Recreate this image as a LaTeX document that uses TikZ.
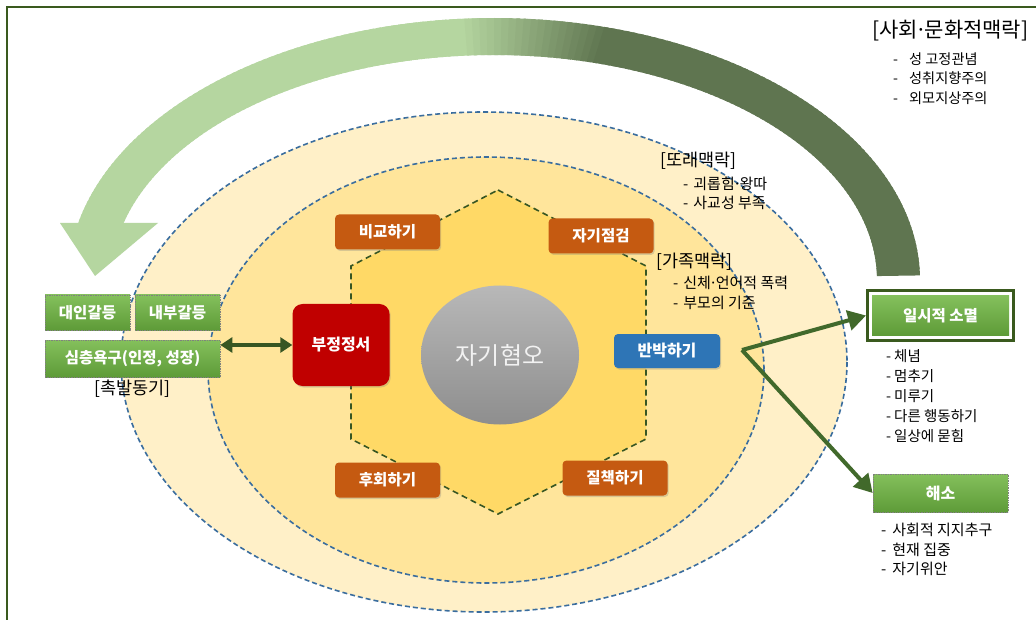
\documentclass[tikz,border=0pt]{standalone}
\usepackage{fontspec}
\setmainfont{Noto Sans CJK KR}
\usetikzlibrary{arrows.meta,shapes.geometric,shadows}
\newcommand{\mdt}{\kern-0.12em·\kern-0.12em}
\definecolor{frameG}{HTML}{3A5A1E}
\definecolor{outerY}{HTML}{FFF0C8}
\definecolor{innerY}{HTML}{FFE59B}
\definecolor{hexY}{HTML}{FFD966}
\definecolor{dashB}{HTML}{3A6D9E}
\definecolor{hexG}{HTML}{375623}
\definecolor{orangeB}{HTML}{C55A11}
\definecolor{redB}{HTML}{C00000}
\definecolor{blueB}{HTML}{2E75B6}
\definecolor{grnTop}{HTML}{84C05C}
\definecolor{grnBot}{HTML}{5E9B38}
\definecolor{arrG}{HTML}{41692B}
\definecolor{arcDark}{HTML}{5F7550}
\definecolor{arcLight}{HTML}{B5D6A0}
\definecolor{coreTop}{HTML}{B8B8B8}
\definecolor{coreBot}{HTML}{8E8E8E}
\begin{document}
\begin{tikzpicture}[x=1pt,y=-1pt,
  lbl/.style={font=\fontsize{15.5}{18}\selectfont\bfseries, text=white, inner sep=0pt},
  orangebox/.style={lbl, fill=orangeB, rounded corners=4pt, minimum width=105pt, minimum height=35pt,
    drop shadow={shadow xshift=1.2pt,shadow yshift=-1.5pt,opacity=0.3}},
  greenbox/.style={lbl, top color=grnTop, bottom color=grnBot, draw=black!50, densely dotted,
    line width=0.7pt, minimum height=35pt},
  note/.style={font=\fontsize{15}{17}\selectfont, anchor=west, inner sep=0pt, text=black},
  headnote/.style={font=\fontsize{17.5}{20}\selectfont, anchor=west, inner sep=0pt, text=black},
  ellborder/.style={draw=dashB, line width=1.6pt, dash pattern=on 5pt off 3pt},
  linkarrow/.style={draw=arrG, fill=arrG, line width=4pt, -{Triangle[length=18pt,width=20pt]}},
  botharrow/.style={draw=hexG, fill=hexG, line width=4pt,
    {Triangle[length=12pt,width=15pt]}-{Triangle[length=12pt,width=15pt]}},
]
\useasboundingbox (0,0) rectangle (1036,620);
\fill[white] (0,0) rectangle (1036,620);

% frame (top and left sides visible)
\draw[frameG, line width=2.5pt] (7,620) -- (7,7) -- (1036,7);

% big circular arrow (gradient band)
\foreach \ang in {192,193,...,358}{
  \pgfmathsetmacro{\angb}{min(\ang+1.6,359)}
  \pgfmathsetmacro{\mix}{min(100,max(0,(\ang-265)*100/20))}
  \fill[arcDark!\mix!arcLight]
    ({494+426*cos(\ang)},{280+262*sin(\ang)}) -- ({494+426*cos(\angb)},{280+262*sin(\angb)})
    -- ({494+383*cos(\angb)},{280+225*sin(\angb)}) -- ({494+383*cos(\ang)},{280+225*sin(\ang)}) -- cycle;
}
\fill[arcLight] (60,223) -- (158,223) -- (95,276) -- cycle;

% context ellipses
\fill[outerY] (484,362) ellipse [x radius=363, y radius=250];
\draw[ellborder] (484,362) ellipse [x radius=363, y radius=250];
\fill[innerY] (486,370) ellipse [x radius=278, y radius=213];
\draw[ellborder] (486,370) ellipse [x radius=278, y radius=213];

% hexagon
\draw[hexG, line width=1.6pt, dash pattern=on 6pt off 4pt, fill=hexY]
  (498,190) -- (646,266) -- (646,439) -- (498,514) -- (351,439) -- (351,266) -- cycle;

% core
\node[ellipse, minimum width=158pt, minimum height=139pt, inner sep=0pt,
  top color=coreTop, bottom color=coreBot, text=white!95!black,
  font=\fontsize{24}{27}\selectfont] (core) at (500,355) {자기혐오};

% orange boxes
\node[orangebox] (cmp) at (387.5,232) {비교하기};
\node[orangebox] (chk) at (601,236) {자기점검};
\node[orangebox] (reg) at (387.5,480) {후회하기};
\node[orangebox] (blm) at (615,478) {질책하기};

% negative emotion
\node[lbl, fill=redB, rounded corners=10pt, minimum width=97pt, minimum height=82pt,
  font=\fontsize{16}{18}\selectfont\bfseries,
  drop shadow={shadow xshift=1.2pt,shadow yshift=-1.5pt,opacity=0.3}] (neg) at (341,345) {부정정서};

% rebuttal
\node[lbl, fill=blueB, rounded corners=4pt, minimum width=106pt, minimum height=34pt,
  font=\fontsize{16}{18}\selectfont\bfseries,
  drop shadow={shadow xshift=1.2pt,shadow yshift=-1.5pt,opacity=0.3}] (reb) at (667,351) {반박하기};

% green boxes (left)
\node[greenbox, minimum width=85pt] (ipc) at (87.5,312.5) {대인갈등};
\node[greenbox, minimum width=85pt] (inc) at (177.5,312.5) {내부갈등};
\node[greenbox, minimum width=175pt, minimum height=37pt] (deep) at (132.5,358.5) {심층욕구(인정, 성장)};
\node[headnote] (trig) at (94,389) {[촉발동기]};

% green boxes (right)
\node[draw=frameG, line width=3pt, fill=white, minimum width=146pt, minimum height=50pt] (tmpf) at (940.5,315.5) {};
\node[greenbox, draw=none, minimum width=137pt, minimum height=39pt] (tmp) at (940.5,315.5) {일시적 소멸};
\node[greenbox, minimum width=135pt, minimum height=38pt, font=\fontsize{16}{18}\selectfont\bfseries] (res) at (940.5,493) {해소};

% annotations: socio-cultural
\node[note, font=\fontsize{21}{24}\selectfont] (sct) at (872,31) {[사회\mdt 문화적맥락]};
\node[note, font=\fontsize{14.2}{16}\selectfont] (sc1) at (893,59) {-\hspace{11pt}성 고정관념};
\node[note, font=\fontsize{14.2}{16}\selectfont] (sc2) at (893,78.5) {-\hspace{11pt}성취지향주의};
\node[note, font=\fontsize{14.2}{16}\selectfont] (sc3) at (893,98) {-\hspace{11pt}외모지상주의};

% peer context
\node[headnote] (peert) at (660,161) {[또래맥락]};
\node[note] (peer1) at (683,183.5) {-\hspace{5pt}괴롭힘\mdt 왕따};
\node[note] (peer2) at (683,202.5) {-\hspace{5pt}사교성 부족};

% family context
\node[headnote] (famt) at (656,262) {[가족맥락]};
\node[note] (fam1) at (673,283) {-\hspace{5pt}신체\mdt 언어적 폭력};
\node[note] (fam2) at (673,303) {-\hspace{5pt}부모의 기준};

% temporary list
\node[note, font=\fontsize{14.5}{16}\selectfont] (t1) at (886,356) {-\hspace{3pt}체념};
\node[note, font=\fontsize{14.5}{16}\selectfont] (t2) at (886,376) {-\hspace{3pt}멈추기};
\node[note, font=\fontsize{14.5}{16}\selectfont] (t3) at (886,396) {-\hspace{3pt}미루기};
\node[note, font=\fontsize{14.5}{16}\selectfont] (t4) at (886,416) {-\hspace{3pt}다른 행동하기};
\node[note, font=\fontsize{14.5}{16}\selectfont] (t5) at (886,436) {-\hspace{3pt}일상에 묻힘};

% resolution list
\node[note] (r1) at (881,530) {-\hspace{6pt}사회적 지지추구};
\node[note] (r2) at (881,549.5) {-\hspace{6pt}현재 집중};
\node[note] (r3) at (881,568.5) {-\hspace{6pt}자기위안};

% connectors
\draw[botharrow] (deep.east |- neg.west) -- (neg.west);
\coordinate (split) at (742,350);
\draw[linkarrow] (split) -- (tmpf.west);
\draw[linkarrow] (split) -- (res.west);
\end{tikzpicture}
\end{document}
